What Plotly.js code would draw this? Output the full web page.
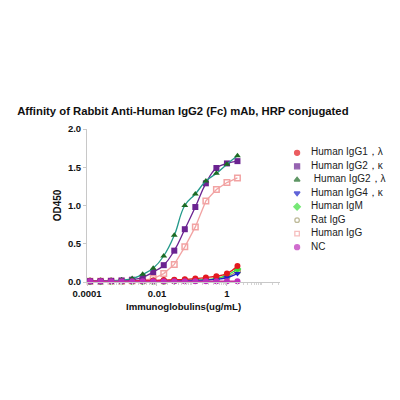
<!DOCTYPE html>
<html>
<head>
<meta charset="utf-8">
<script src="https://cdn.plot.ly/plotly-3.0.1.min.js"></script>
<style>html,body{margin:0;padding:0;background:#fff;}#chart{width:400px;height:400px;}</style>
</head>
<body>
<div id="chart"></div>
<script>
// Concentrations (ug/mL), 2-fold dilution series
var concentrations = [2, 1, 0.5, 0.25, 0.125, 0.0625, 0.03125, 0.015625, 0.0078125, 0.00390625, 0.001953125, 0.0009765625, 0.00048828125, 0.000244140625, 0.0001220703125];

// OD450 values
var igg1Lambda = [0.21, 0.11, 0.075, 0.058, 0.045, 0.035, 0.03, 0.025, 0.02, 0.02, 0.015, 0.015, 0.015, 0.015, 0.015];
var igg2Kappa  = [1.58, 1.55, 1.49, 1.29, 0.98, 0.69, 0.41, 0.22, 0.13, 0.06, 0.03, 0.02, 0.015, 0.01, 0.01];
var igg2Lambda = [1.65, 1.54, 1.42, 1.32, 1.15, 1.00, 0.61, 0.34, 0.18, 0.10, 0.045, 0.025, 0.015, 0.01, 0.01];
var igg4Kappa  = [0.11, 0.058, 0.035, 0.025, 0.02, 0.02, 0.015, 0.015, 0.01, 0.01, 0.01, 0.01, 0.01, 0.01, 0.01];
var humanIgM   = [0.17, 0.09, 0.045, 0.03, 0.025, 0.02, 0.015, 0.015, 0.01, 0.01, 0.01, 0.01, 0.01, 0.01, 0.01];
var ratIgG     = [0.14, 0.07, 0.04, 0.03, 0.02, 0.02, 0.015, 0.01, 0.01, 0.01, 0.01, 0.01, 0.01, 0.01, 0.01];
var humanIgG   = [1.36, 1.30, 1.21, 1.06, 0.72, 0.46, 0.23, 0.11, 0.045, 0.025, 0.015, 0.01, 0.01, 0.01, 0.01];
var ncValues   = [0.01, 0.01, 0.01, 0.01, 0.01, 0.01, 0.01, 0.01, 0.01, 0.01, 0.01, 0.01, 0.01, 0.01, 0.01];

var seriesNames = ['Human IgG1\uFF0C\u03BB', 'Human IgG2\uFF0C\u03BA', ' Human IgG2\uFF0C\u03BB', 'Human IgG4\uFF0C\u03BA', 'Human IgM', 'Rat IgG', 'Human IgG', 'NC'];
var seriesValues = [igg1Lambda, igg2Kappa, igg2Lambda, igg4Kappa, humanIgM, ratIgG, humanIgG, ncValues];
var markerColors = ['#e3191e', '#6b2391', '#1c6b24', '#1d22c8', '#3ddf3d', '#a39d6e', '#f2a3a3', '#bd2fba'];
var lineColors   = ['#e3191e', '#6b2391', '#23998a', '#1d22c8', '#3ddf3d', '#a39d6e', '#f2a3a3', '#c9309f'];
var symbols      = ['circle', 'square', 'triangle-up', 'triangle-down', 'diamond', 'circle-open', 'square-open', 'circle'];
var lineShapes   = ['spline', 'spline', 'spline', 'spline', 'spline', 'spline', 'linear', 'linear'];
var drawOrder    = [6, 5, 4, 3, 0, 1, 2, 7];

var FONT = 'Liberation Sans, Arial, sans-serif';
var traces = [];
drawOrder.forEach(function (i) {
  var open = symbols[i].indexOf('open') >= 0;
  traces.push({
    x: concentrations, y: seriesValues[i], type: 'scatter', mode: 'lines+markers',
    name: seriesNames[i], cliponaxis: false,
    line: {color: lineColors[i], width: 1.3, shape: lineShapes[i], smoothing: 1.3},
    marker: {symbol: symbols[i], color: markerColors[i], size: (open ? 5.5 : 6),
             line: {color: markerColors[i], width: (open ? 1.5 : 0)}},
    xaxis: 'x', yaxis: 'y', hoverinfo: 'skip'
  });
});

// Custom legend (markers + text) on an auxiliary category axis
var legendSizes = symbols.map(function (s) { return s.indexOf('open') >= 0 ? 4.5 : 5; });
traces.push({
  x: seriesNames.map(function () { return 0; }), y: seriesNames, type: 'scatter', mode: 'markers',
  marker: {symbol: symbols, color: markerColors, size: legendSizes, line: {color: markerColors, width: 1.3}},
  xaxis: 'x2', yaxis: 'y2', hoverinfo: 'skip', cliponaxis: false
});
traces.push({
  x: seriesNames.map(function () { return 1.4; }), y: seriesNames, type: 'scatter', mode: 'text',
  text: seriesNames, textposition: 'middle right',
  textfont: {family: FONT, size: 10, color: '#222'},
  xaxis: 'x2', yaxis: 'y2', hoverinfo: 'skip', cliponaxis: false
});

var layout = {
  width: 400, height: 400,
  margin: {l: 86.7, r: 10, t: 129.3, b: 118.3},
  paper_bgcolor: '#fff', plot_bgcolor: '#fff',
  showlegend: false,
  font: {family: FONT, color: '#111'},
  title: {
    text: '<b>Affinity of Rabbit Anti-Human IgG2 (Fc) mAb, HRP conjugated</b>',
    font: {family: FONT, size: 11.3, color: '#111'},
    xref: 'container', yref: 'container', x: 0.043, xanchor: 'left', y: 0.7225, yanchor: 'middle'
  },
  xaxis: {
    type: 'log', domain: [0, 0.6373], range: [-4, 1.52],
    tickmode: 'array', tickvals: [0.0001, 0.01, 1], ticktext: ['<b>0.0001</b>', '<b>0.01</b>', '<b>1</b>'],
    ticks: 'outside', ticklen: 3, tickcolor: '#c8c8c8', tickwidth: 1,
    showline: true, linecolor: '#c8c8c8', linewidth: 1,
    showgrid: false, zeroline: false,
    tickfont: {family: FONT, size: 9.5, color: '#111'},
    minor: {ticks: 'outside', ticklen: 2, tickcolor: '#d4d4d4', dtick: 'D1', showgrid: false},
    title: {text: '<b>Immunoglobulins(ug/mL)</b>', font: {family: FONT, size: 9.6, color: '#111'}, standoff: 4},
    anchor: 'y'
  },
  yaxis: {
    domain: [0, 1], range: [0, 2],
    tickmode: 'array', tickvals: [0, 0.5, 1, 1.5, 2], ticktext: ['<b>0.0</b>', '<b>0.5</b>', '<b>1.0</b>', '<b>1.5</b>', '<b>2.0</b>'],
    ticks: 'outside', ticklen: 3, tickcolor: '#c8c8c8', tickwidth: 1,
    showline: true, linecolor: '#c8c8c8', linewidth: 1,
    showgrid: false, zeroline: false,
    tickfont: {family: FONT, size: 9.5, color: '#111'},
    title: {text: '<b>OD450</b>', font: {family: FONT, size: 10, color: '#111'}, standoff: 4},
    anchor: 'x'
  },
  xaxis2: {domain: [0.6703, 1], range: [-0.7, 9.3], visible: false, anchor: 'y2', fixedrange: true},
  yaxis2: {domain: [0.1837, 0.8885], type: 'category', range: [7.5, -0.5], visible: false, anchor: 'x2', fixedrange: true}
};

Plotly.newPlot('chart', traces, layout, {displayModeBar: false, staticPlot: true});
</script>
</body>
</html>
